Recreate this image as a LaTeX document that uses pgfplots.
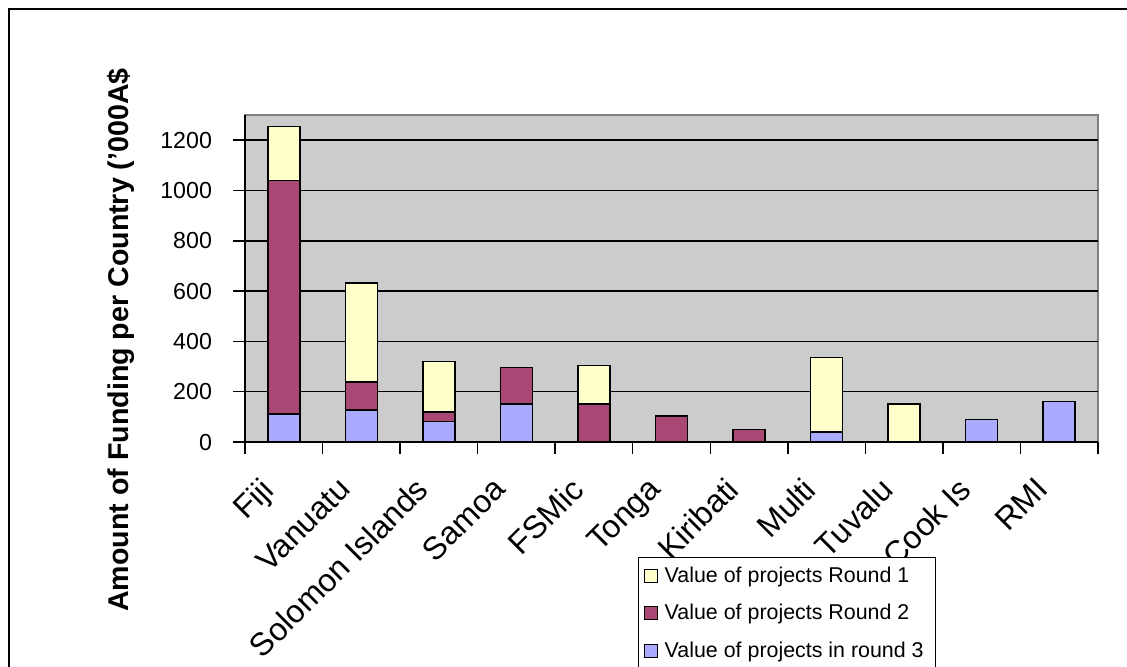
\documentclass[border=0pt]{standalone}
\usepackage{fontspec}
\setmainfont{Liberation Sans}
\usepackage{pgfplots}
\pgfplotsset{compat=1.18}
\definecolor{roundone}{HTML}{FFFFCC}
\definecolor{roundtwo}{HTML}{A94874}
\definecolor{roundthree}{HTML}{AAAAFF}
\definecolor{plotgrey}{HTML}{CCCCCC}
\begin{document}
\begin{tikzpicture}
\useasboundingbox (0,0) rectangle (563.5pt,-333pt);
\clip (0,0) rectangle (563.5pt,-333pt);
\draw[line width=1pt] (4.5pt,-700pt) -- (4.5pt,-4.5pt) -- (700pt,-4.5pt);
\begin{axis}[
  at={(122.5pt,-221pt)}, anchor=south west,
  scale only axis, width=426.5pt, height=163.5pt,
  ymin=0, ymax=1300, xmin=0.5, xmax=11.5,
  ybar stacked, bar width=16pt,
  axis x line*=bottom, axis y line*=left,
  axis line style={line width=0.75pt},
  axis background/.style={fill=plotgrey, draw=gray, line width=0.75pt},
  ytick={0,200,...,1200},
  ymajorgrids, grid style={black, line width=0.75pt},
  tick align=outside, major tick length=6pt,
  tick style={black, line width=0.75pt},
  xtick={0.5,1.5,...,11.5}, xticklabels={},
  extra x ticks={1,2,...,11},
  extra x tick labels={Fiji,Vanuatu,Solomon Islands,Samoa,FSMic,Tonga,Kiribati,Multi,Tuvalu,Cook Is,RMI},
  extra x tick style={major tick length=0pt},
  xticklabel style={xshift=-12.5pt, yshift=-16.5pt, rotate=45, anchor=north east, inner sep=0pt,
    font=\fontsize{16}{18}\selectfont},
  /pgf/number format/assume math mode=true,
  /pgf/number format/1000 sep={},
  yticklabel style={font=\fontsize{11.6}{13}\selectfont, xshift=-7pt},
  ylabel={Amount of Funding per Country ('000A\$},
  ylabel style={font=\bfseries\fontsize{14.3}{16}\selectfont,
    at={(axis description cs:-0.1454,0.312)}, anchor=center},
  reverse legend,
  legend style={at={(0.461,-0.352)}, anchor=north west, draw=black, line width=0.5pt,
    font=\fontsize{10.7}{12}\selectfont, row sep=5.5pt, inner sep=2.5pt,
    legend cell align=left, nodes={inner xsep=3.5pt}},
  legend image code/.code={\draw[#1, line width=0.5pt] (0pt,-3.25pt) rectangle (6.5pt,3.25pt);},
]
\addplot[fill=roundthree, draw=black, line width=0.75pt] coordinates {
  (1,112) (2,128) (3,81) (4,152) (5,0) (6,0) (7,0) (8,40) (9,0) (10,89) (11,161)};
\addlegendentry{Value of projects in round 3}
\addplot[fill=roundtwo, draw=black, line width=0.75pt] coordinates {
  (1,927) (2,111) (3,39) (4,145) (5,152) (6,104) (7,49) (8,0) (9,0) (10,0) (11,0)};
\addlegendentry{Value of projects Round 2}
\addplot[fill=roundone, draw=black, line width=0.75pt] coordinates {
  (1,216) (2,393) (3,200) (4,0) (5,152) (6,0) (7,0) (8,296) (9,152) (10,0) (11,0)};
\addlegendentry{Value of projects Round 1}
\end{axis}
\end{tikzpicture}
\end{document}
